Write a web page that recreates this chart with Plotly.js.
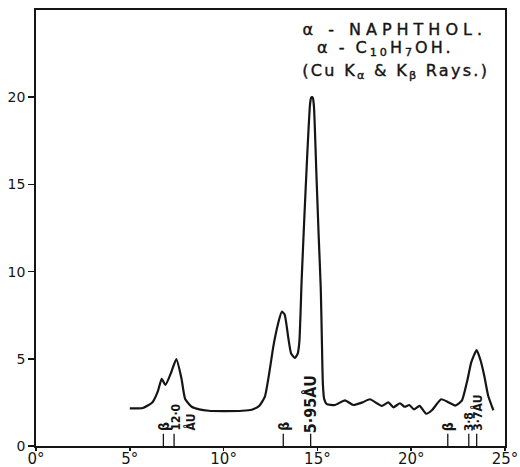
<!DOCTYPE html>
<html>
<head>
<meta charset="utf-8">
<script src="https://cdn.plot.ly/plotly-3.0.1.min.js"></script>
<style>
  html, body { margin: 0; padding: 0; background: #fff; }
  #chart { width: 520px; height: 467px; }
  g.annotation[data-index="0"] text { letter-spacing: 5px; stroke: #151515; stroke-width: 0.4px; }
  g.annotation[data-index="1"] text { letter-spacing: 3px; stroke: #151515; stroke-width: 0.4px; }
  g.annotation[data-index="2"] text { letter-spacing: 2.3px; stroke: #151515; stroke-width: 0.4px; }
</style>
</head>
<body>
<div id="chart"></div>
<script>
// Diffraction angle (degrees) and intensity
const angle = [5.0, 5.7, 6.2, 6.5, 6.7, 6.9, 7.2, 7.48, 7.75, 7.95, 8.3, 8.7, 9.2, 10.0, 11.0, 11.5, 11.9, 12.2, 12.45, 12.65, 12.9, 13.1, 13.25, 13.45, 13.6, 13.8, 13.95, 14.04, 14.16, 14.3, 14.45, 14.6, 14.66, 14.71, 14.76, 14.82, 14.95, 15.07, 15.18, 15.24, 15.29, 15.36, 15.5, 15.94, 16.47, 16.91, 17.4, 17.8, 18.43, 18.78, 19.05, 19.4, 19.65, 19.9, 20.15, 20.45, 20.8, 21.1, 21.6, 22.0, 22.35, 22.7, 23.0, 23.2, 23.49, 23.7, 23.9, 24.1, 24.38];
const intensity = [2.16, 2.18, 2.5, 3.15, 3.85, 3.5, 4.2, 4.98, 3.9, 2.7, 2.25, 2.1, 2.02, 2.0, 2.02, 2.08, 2.3, 2.83, 4.3, 5.7, 7.0, 7.7, 7.55, 6.2, 5.3, 5.05, 5.3, 6.0, 9.5, 13.0, 16.5, 19.5, 19.95, 20.0, 19.95, 19.4, 15.5, 12.0, 9.0, 6.0, 3.6, 2.7, 2.4, 2.35, 2.62, 2.35, 2.5, 2.68, 2.3, 2.5, 2.22, 2.45, 2.25, 2.35, 2.1, 2.3, 1.85, 2.05, 2.68, 2.5, 2.32, 2.6, 3.8, 4.8, 5.5, 4.9, 4.0, 2.9, 2.05];

// Marked reflections
const markAngle = [6.79, 7.36, 13.18, 14.64, 21.95, 23.07, 23.49];
const markLabel = ["β", "12·0<br>ÅU", "β", "5·95ÅU", "β", "3·8", "3·7ÅU"];

// Axis ticks
const xTickVals = [0, 5, 10, 15, 20, 25];
const xTickText = ["0°", "5°", "10°", "15°", "20°", "25°"];
const yTickVals = [0, 5, 10, 15, 20];

const titleLines = ["α - NAPHTHOL.", "α - C<sub>10</sub>H<sub>7</sub>OH.", "(Cu K<sub>α</sub> & K<sub>β</sub> Rays.)"];

const ink = '#151515';
const MARK_H = 0.7;
const labelFontSize = [14, 12, 14, 16, 14, 12, 12];
const labelGap = [0.1, 0.1, 0.1, -0.05, 0.1, 0.1, 0.1];

const markX = [], markY = [];
markAngle.forEach(a => { markX.push(a, a, null); markY.push(0, MARK_H, null); });

const traces = [
  { x: markX, y: markY, mode: 'lines', line: { color: ink, width: 1.3 }, hoverinfo: 'skip', showlegend: false },
  { x: angle, y: intensity, mode: 'lines', line: { color: ink, width: 2.2, shape: 'spline', smoothing: 0.5 }, showlegend: false }
];

const titleX = [394, 385, 396];
const titleY = [29, 49, 71];
const annotations = titleLines.map((t, i) => ({
  text: t, xref: 'paper', yref: 'paper',
  x: (titleX[i] - 36) / 469, y: 1 - (titleY[i] - 10) / 436,
  xanchor: 'center', yanchor: 'middle', showarrow: false,
  font: { family: 'DejaVu Sans', size: 16, color: ink }
}));

markAngle.forEach((a, i) => {
  const multi = markLabel[i].indexOf('<br>') >= 0;
  annotations.push({
    text: markLabel[i], xref: 'x', yref: 'y', x: a, y: MARK_H + labelGap[i],
    xanchor: 'center', yanchor: 'bottom', textangle: -90, showarrow: false,
    xshift: multi ? 9 : 0, align: 'left',
    borderpad: 0,
    font: { family: 'DejaVu Sans Condensed, DejaVu Sans', size: labelFontSize[i], color: ink, weight: 'bold' }
  });
});

const layout = {
  width: 520, height: 467,
  margin: { l: 36, r: 15, t: 10, b: 21 },
  paper_bgcolor: '#fff', plot_bgcolor: '#fff',
  showlegend: false,
  xaxis: {
    range: [0, 25], tickvals: xTickVals, ticktext: xTickText,
    showgrid: false, zeroline: false, showline: true, mirror: true,
    linecolor: ink, linewidth: 1.8, ticks: 'outside', ticklen: 3, tickwidth: 1.5, tickcolor: ink,
    ticklabelstandoff: -5,
    tickfont: { family: 'DejaVu Sans', size: 15, color: ink }, fixedrange: true
  },
  yaxis: {
    range: [0, 25], tickvals: yTickVals,
    showgrid: false, zeroline: false, showline: true, mirror: true,
    linecolor: ink, linewidth: 1.8, ticks: 'outside', ticklen: 6, tickwidth: 1.5, tickcolor: ink,
    tickfont: { family: 'DejaVu Sans', size: 14, color: ink }, fixedrange: true
  },
  annotations: annotations
};

Plotly.newPlot('chart', traces, layout, { staticPlot: true, displayModeBar: false });
</script>
</body>
</html>
